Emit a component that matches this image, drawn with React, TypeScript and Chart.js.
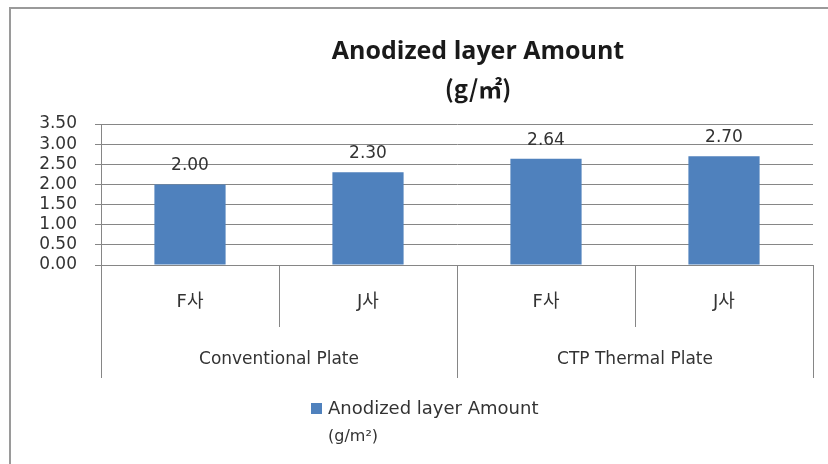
import React, { useEffect, useRef } from "react";
import { Chart, registerables } from "chart.js";

Chart.register(...registerables);

const subCategories = ["F사", "J사", "F사", "J사"];
const groupLabels = ["Conventional Plate", "CTP Thermal Plate"];
const groupSize = 2;
const seriesLabel = "Anodized layer Amount (g/m²)";
const seriesValues = [2.0, 2.3, 2.64, 2.7];
const yMin = 0;
const yMax = 3.5;
const yStep = 0.5;
const titleLines = ["Anodized layer Amount", "(g/㎡)"];
const legendLines = ["Anodized layer Amount", "(g/m²)"];

const BAR_COLOR = "#4F81BD";
const GRID_COLOR = "#868686";
const TEXT_COLOR = "#333333";
const TITLE_FONT = '"Open Sans", "Noto Sans CJK KR", sans-serif';
const FONT = '"DejaVu Sans", "Noto Sans CJK KR", sans-serif';

const decorPlugin = {
  id: "decor",
  afterDraw(chart: any) {
    const ctx = chart.ctx as CanvasRenderingContext2D;
    const area = chart.chartArea;
    const xs = chart.scales.x;
    const ys = chart.scales.y;
    ctx.save();

    // outer frame
    ctx.strokeStyle = "#9a9a9a";
    ctx.lineWidth = 2;
    ctx.beginPath();
    ctx.moveTo(10, chart.height);
    ctx.lineTo(10, 8);
    ctx.lineTo(chart.width, 8);
    ctx.stroke();

    // title
    ctx.fillStyle = "#1a1a1a";
    ctx.textAlign = "center";
    ctx.textBaseline = "middle";
    ctx.font = `bold 25px ${TITLE_FONT}`;
    const tx = (area.left + area.right) / 2 + 21;
    ctx.fillText(titleLines[0], tx, 52);
    ctx.font = `bold 24px "Noto Sans CJK KR", ${TITLE_FONT}`;
    ctx.fillText(titleLines[1], tx, 89);

    // data labels
    const meta = chart.getDatasetMeta(0);
    ctx.font = `17px ${FONT}`;
    ctx.fillStyle = TEXT_COLOR;
    ctx.textBaseline = "alphabetic";
    meta.data.forEach((bar: any, i: number) => {
      ctx.fillText(seriesValues[i].toFixed(2), bar.x, bar.y - 14);
    });

    // category dividers
    const n = subCategories.length;
    const bottom = ys.getPixelForValue(yMin);
    ctx.strokeStyle = GRID_COLOR;
    ctx.lineWidth = 1;
    for (let i = 0; i <= n; i++) {
      let x;
      if (i === 0) x = area.left;
      else if (i === n) x = area.right;
      else x = (xs.getPixelForValue(i - 1) + xs.getPixelForValue(i)) / 2;
      const long = i % groupSize === 0;
      x = Math.round(x) + 0.5;
      ctx.beginPath();
      ctx.moveTo(x, bottom);
      ctx.lineTo(x, bottom + (long ? 113 : 62));
      ctx.stroke();
    }

    // group labels
    ctx.font = `17px ${FONT}`;
    ctx.fillStyle = TEXT_COLOR;
    ctx.textBaseline = "middle";
    groupLabels.forEach((g, gi) => {
      const a = xs.getPixelForValue(gi * groupSize);
      const b = xs.getPixelForValue(gi * groupSize + groupSize - 1);
      ctx.fillText(g, (a + b) / 2, bottom + 95);
    });

    // legend
    ctx.fillStyle = BAR_COLOR;
    ctx.fillRect(311, 403, 11, 11);
    ctx.fillStyle = TEXT_COLOR;
    ctx.textAlign = "left";
    ctx.font = `18px ${FONT}`;
    ctx.fillText(legendLines[0], 328, 409);
    ctx.font = `16px ${FONT}`;
    ctx.fillText(legendLines[1], 328, 437);

    ctx.restore();
  },
};

export default function App() {
  const ref = useRef<HTMLCanvasElement | null>(null);
  useEffect(() => {
    document.body.style.margin = "0";
    const canvas = ref.current!;
    const chart = new Chart(canvas, {
      type: "bar",
      data: {
        labels: subCategories,
        datasets: [
          {
            label: seriesLabel,
            data: seriesValues,
            backgroundColor: BAR_COLOR,
            barPercentage: 0.4,
            categoryPercentage: 1,
          },
        ],
      },
      options: {
        responsive: false,
        animation: false,
        layout: { padding: { top: 124, right: 15, left: 0, bottom: 0 } },
        plugins: {
          legend: { display: false },
          title: { display: false },
          tooltip: { enabled: false },
        },
        scales: {
          x: {
            offset: true,
            grid: { display: false, drawTicks: false },
            border: { display: false },
            ticks: {
              color: TEXT_COLOR,
              font: { family: FONT, size: 18 },
              padding: 27,
            },
            afterFit: (s: any) => {
              s.height = 199;
            },
          },
          y: {
            min: yMin,
            max: yMax,
            grid: { color: GRID_COLOR, tickLength: 6 },
            border: { color: GRID_COLOR },
            ticks: {
              stepSize: yStep,
              autoSkip: false,
              color: TEXT_COLOR,
              font: { family: FONT, size: 17 },
              padding: 18,
              callback: (v: any) => Number(v).toFixed(2),
            },
            afterFit: (s: any) => {
              s.width = 101;
            },
          },
        },
      },
      plugins: [decorPlugin],
    });
    return () => chart.destroy();
  }, []);
  return (
    <div style={{ width: 828, height: 464, background: "#fff" }}>
      <canvas ref={ref} width={828} height={464} />
    </div>
  );
}
